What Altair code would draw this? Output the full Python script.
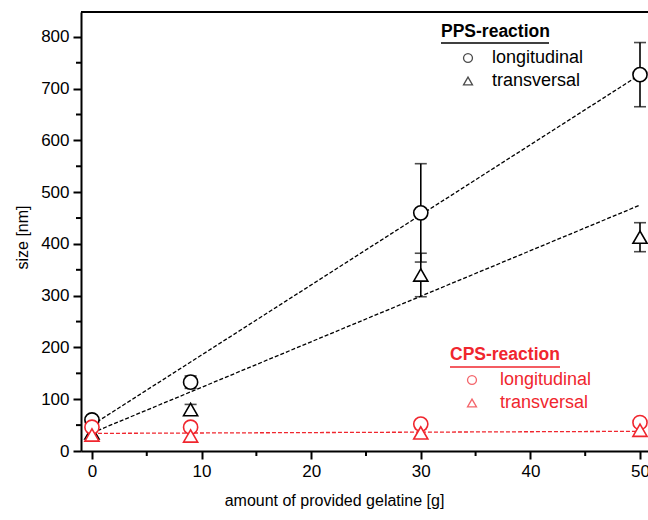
import altair as alt
import pandas as pd

# ---- data ----
x_vals = [0, 9, 30, 50]
pps_long = [60, 133, 460, 727]
pps_long_err = [6, 12, 95, 62]
pps_trans = [35, 80, 340, 413]
pps_trans_err = [12, 10, 42, 28]
cps_long = [46, 46, 52, 55]
cps_long_err = [8, 8, 8, 8]
cps_trans = [31, 29, 35, 40]
cps_trans_err = [10, 9, 8, 10]

fit_x = [0, 50]
fit_pps_long = [50, 727]
fit_pps_trans = [35, 475]
fit_cps = [34, 38]

x_major = [0, 10, 20, 30, 40, 50]
x_minor = [5, 15, 25, 35, 45]
y_major = [0, 100, 200, 300, 400, 500, 600, 700, 800]
y_minor = [50, 150, 250, 350, 450, 550, 650, 750]

groups = ["PPS", "CPS"]
directions = ["longitudinal", "transversal"]
legend_titles = ["PPS-reaction", "CPS-reaction"]

RED = "#f0262e"
FONT = "Liberation Sans"

# ---- tables ----
rows = []
for grp, d, vals, errs in [("PPS", "longitudinal", pps_long, pps_long_err),
                           ("PPS", "transversal", pps_trans, pps_trans_err),
                           ("CPS", "longitudinal", cps_long, cps_long_err),
                           ("CPS", "transversal", cps_trans, cps_trans_err)]:
    for x, v, e in zip(x_vals, vals, errs):
        rows.append({"grp": grp, "dir": d, "x": x, "y": v, "lo": v - e, "hi": v + e})
pts = pd.DataFrame(rows)

caps = pd.concat([
    pts[["grp", "dir", "x", "lo"]].rename(columns={"lo": "c"}),
    pts[["grp", "dir", "x", "hi"]].rename(columns={"hi": "c"}),
])

fit_rows = []
for name, grp, vals in [("pl", "PPS", fit_pps_long), ("pt", "PPS", fit_pps_trans), ("c", "CPS", fit_cps)]:
    for x, v in zip(fit_x, vals):
        fit_rows.append({"fit": name, "grp": grp, "x": x, "y": v})
fits = pd.DataFrame(fit_rows)

xs = alt.Scale(domain=[-1, 50.73], nice=False, zero=False)
ys = alt.Scale(domain=[0, 848], nice=False, zero=False)
cs = alt.Scale(domain=groups, range=["black", RED])
ss = alt.Scale(domain=directions, range=["circle", "triangle-up"])

X = alt.X("x:Q", scale=xs, axis=alt.Axis(values=x_major, title="amount of provided gelatine [g]",
                                          titleX=253, titleY=49, titleBaseline="middle"))
Y = alt.Y("y:Q", scale=ys, axis=alt.Axis(values=y_major, title="size [nm]",
                                          titleX=-59, titleY=225, titleBaseline="middle", titleAngle=-90))

fit_layer = alt.Chart(fits).mark_line(strokeDash=[4, 2], strokeWidth=1.3).encode(
    x=X, y=Y, detail="fit:N", color=alt.Color("grp:N", scale=cs, legend=None))

err_layer = alt.Chart(pts).mark_rule(strokeWidth=1.6).encode(
    x=alt.X("x:Q", scale=xs), y=alt.Y("lo:Q", scale=ys), y2="hi:Q",
    color=alt.Color("grp:N", scale=cs, legend=None))

cap_layer = alt.Chart(caps).mark_tick(orient="horizontal", size=12, thickness=1.6).encode(
    x=alt.X("x:Q", scale=xs), y=alt.Y("c:Q", scale=ys),
    color=alt.Color("grp:N", scale=cs, legend=None))

pt_layer = alt.Chart(pts).mark_point(size=200, strokeWidth=1.6, fill="white", fillOpacity=1, opacity=1).encode(
    x=alt.X("x:Q", scale=xs), y=alt.Y("y:Q", scale=ys),
    color=alt.Color("grp:N", scale=cs, legend=None),
    shape=alt.Shape("dir:N", scale=ss, legend=None))

# minor ticks
xminor_layer = alt.Chart(pd.DataFrame({"v": x_minor})).mark_rule(strokeWidth=2, color="black").encode(
    x=alt.X("v:Q", scale=xs), y=alt.value(439), y2=alt.value(444))
yminor_layer = alt.Chart(pd.DataFrame({"v": y_minor})).mark_rule(strokeWidth=2, color="black").encode(
    y=alt.Y("v:Q", scale=ys), x=alt.value(0), x2=alt.value(-5))

top_frame = alt.Chart(pd.DataFrame({"a": [0]})).mark_rule(strokeWidth=2, color="black").encode(
    x=alt.value(0), x2=alt.value(567), y=alt.value(0))

one = pd.DataFrame({"a": [0]})


def txt(s, x, y, color, bold=False, size=18):
    return alt.Chart(pd.DataFrame({"t": [s]})).mark_text(
        align="left", baseline="middle", fontSize=size, font=FONT,
        fontWeight="bold" if bold else "normal", color=color).encode(
        text="t:N", x=alt.value(x), y=alt.value(y))


def sym(shape, x, y, color):
    return alt.Chart(one).mark_point(shape=shape, size=80, strokeWidth=1.3, color=color).encode(
        x=alt.value(x), y=alt.value(y))


def uline(x1, x2, y, color):
    return alt.Chart(one).mark_rule(strokeWidth=1.6, color=color).encode(
        x=alt.value(x1), x2=alt.value(x2), y=alt.value(y))


legend = [
    txt(legend_titles[0], 360, 20, "black", bold=True, size=17.5),
    uline(360, 468, 31, "black"),
    sym("circle", 387, 46, "black"),
    sym("triangle-up", 387, 69, "black"),
    txt(directions[0], 411, 46, "black"),
    txt(directions[1], 411, 69, "black"),
    txt(legend_titles[1], 369, 343, RED, bold=True, size=17.5),
    uline(369, 479, 355, RED),
    sym("circle", 391, 368, RED),
    sym("triangle-up", 391, 391, RED),
    txt(directions[0], 419, 368, RED),
    txt(directions[1], 419, 391, RED),
]

chart = alt.layer(
    fit_layer, err_layer, cap_layer, pt_layer, xminor_layer, yminor_layer, top_frame, *legend
).properties(
    width=567, height=439,
    padding={"left": 81, "top": 12, "right": 0, "bottom": 69},
    autosize=alt.AutoSizeParams(type="none"),
    background="white",
).configure_view(stroke=None).configure_axis(
    grid=False, domainColor="black", domainWidth=2, tickColor="black", tickWidth=2, tickSize=8,
    labelFont=FONT, labelFontSize=17, labelColor="black", labelPadding=4,
    titleFont=FONT, titleFontSize=16, titleFontWeight="normal", titleColor="black",
)

chart.save("out.html", embed_options={"renderer": "svg", "actions": False})
